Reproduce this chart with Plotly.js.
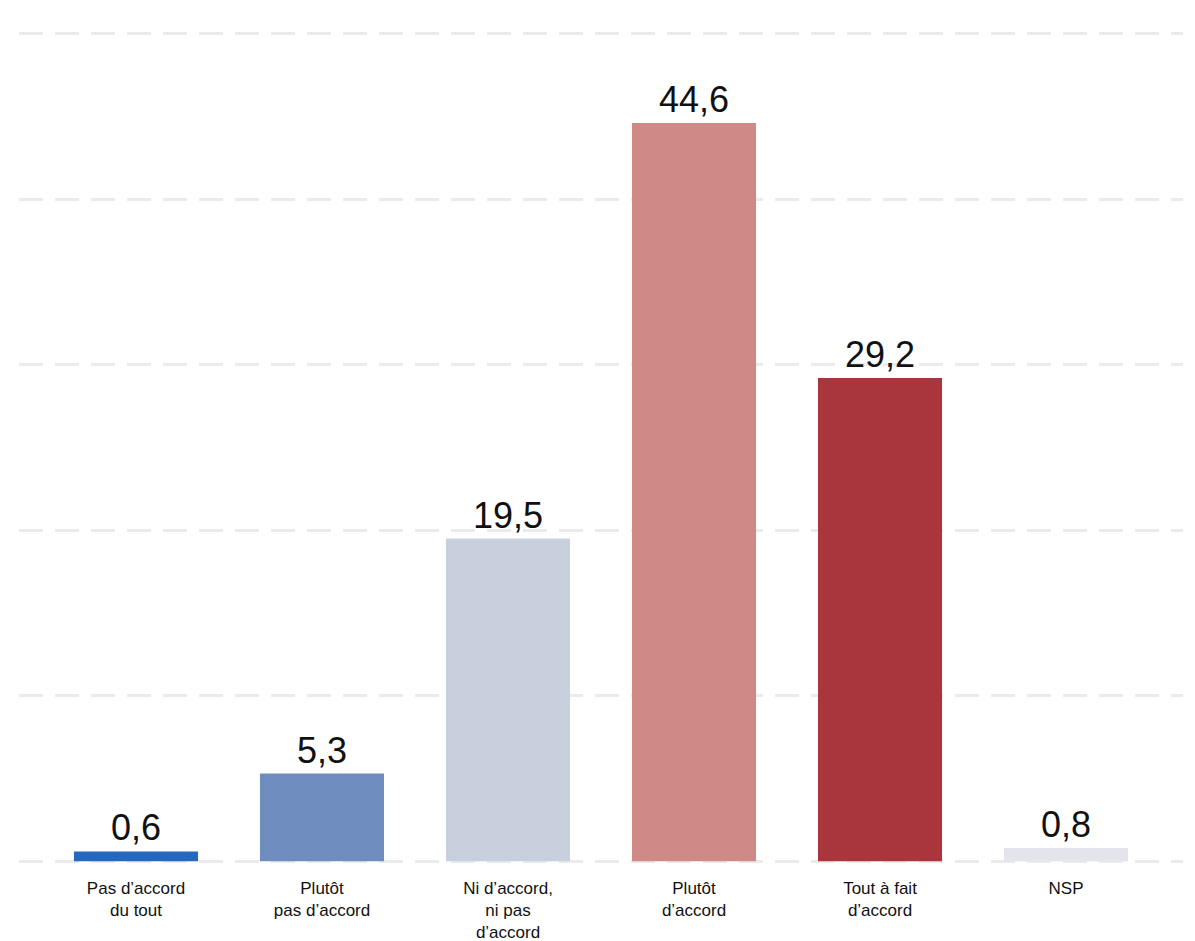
<!DOCTYPE html>
<html><head><meta charset="utf-8">
<script src="https://cdn.plot.ly/plotly-3.0.1.min.js"></script>
<style>html,body{margin:0;padding:0;background:#fff}#chart{width:1195px;height:941px}</style>
</head><body><div id="chart"></div>
<script>
const categories = ["Pas d’accord<br>du tout", "Plutôt<br>pas d’accord", "Ni d’accord,<br>ni pas<br>d’accord", "Plutôt<br>d’accord", "Tout à fait<br>d’accord", "NSP"];
const values = [0.6, 5.3, 19.5, 44.6, 29.2, 0.8];
const valueLabels = ["0,6", "5,3", "19,5", "44,6", "29,2", "0,8"];
const barColors = ["#2568be", "#6f8ebf", "#c8cfdd", "#cf8987", "#a8363c", "#e4e4ec"];

const trace = {
  type: "bar",
  x: categories,
  y: values,
  text: valueLabels,
  textposition: "outside",
  cliponaxis: false,
  textfont: {family: "Liberation Sans, Arial, sans-serif", size: 36, color: "#111"},
  marker: {color: barColors, line: {width: 0}},
  width: 0.667,
  hoverinfo: "none"
};
const layout = {
  width: 1195, height: 941,
  margin: {l: 19, r: 12, t: 32, b: 78},
  paper_bgcolor: "#fff", plot_bgcolor: "#fff",
  showlegend: false,
  xaxis: {
    type: "category",
    range: [-0.629, 5.629],
    showgrid: false, zeroline: false, showline: false, ticks: "",
    tickfont: {family: "Liberation Sans, Arial, sans-serif", size: 17, color: "#111"},
    ticklabelstandoff: 13
  },
  yaxis: {
    range: [-0.1, 50.1],
    tickvals: [0, 10, 20, 30, 40, 50],
    showticklabels: false,
    zeroline: false, showline: false, ticks: "",
    showgrid: true, gridcolor: "#ebebeb", gridwidth: 3, griddash: "24px,12px"
  }
};
Plotly.newPlot("chart", [trace], layout, {staticPlot: true, displayModeBar: false});
</script></body></html>
